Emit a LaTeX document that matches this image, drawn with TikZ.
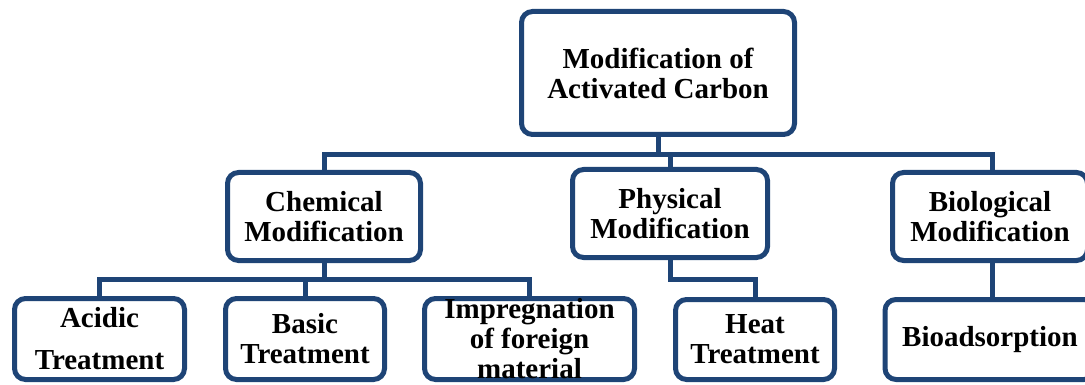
\documentclass[tikz,border=0pt]{standalone}
\usepackage{fontspec}
\setmainfont{Liberation Serif}
\definecolor{boxblue}{RGB}{30,68,118}
\begin{document}
\begin{tikzpicture}[x=1pt,y=-1pt,
  box/.style={draw=boxblue, line width=5pt, rounded corners=11pt, fill=white,
    inner sep=0pt, align=center, font=\fontsize{29}{30}\selectfont\bfseries},
  conn/.style={draw=boxblue, line width=5pt}]
\useasboundingbox (0,0) rectangle (1085,385);
\coordinate (bar) at (0,155);
\coordinate (bar2) at (0,279);
\node[box, minimum width=273, minimum height=123] (top) at (658,73) {Modification of\\Activated Carbon};
\node[box, minimum width=193, minimum height=88] (chem) at (324,216.5) {Chemical\\Modification};
\node[box, minimum width=195, minimum height=88] (phys) at (670,213.5) {Physical\\Modification};
\node[box, minimum width=195, minimum height=88] (bio) at (990,216.5) {Biological\\Modification};
\node[box, minimum width=170, minimum height=81] (acid) at (99.5,339) {Acidic\\[12pt]Treatment};
\node[box, minimum width=159, minimum height=81] (basic) at (305,339) {Basic\\Treatment};
\node[box, minimum width=210, minimum height=81] (imp) at (529.5,339) {Impregnation\\of foreign\\material};
\node[box, minimum width=159, minimum height=80] (heat) at (755,339.5) {Heat\\Treatment};
\node[box, minimum width=210, minimum height=80] (bioads) at (990,339.5) {Bioadsorption};
\draw[conn] (top.south) -- (top.south |- bar);
\draw[conn] (chem.north) |- ([xshift=2pt]bio.north |- bar) -- ([xshift=2pt]bio.north);
\draw[conn] (phys.north) -- (phys.north |- bar);
\draw[conn] (acid.north) |- (imp.north |- bar2) -- (imp.north);
\draw[conn] (chem.south) -- (chem.south |- bar2);
\draw[conn] (basic.north) -- (basic.north |- bar2);
\draw[conn] (phys.south) |- (heat.north |- bar2) -- (heat.north);
\draw[conn] ([xshift=2pt]bio.south) -- ([xshift=2pt]bioads.north);
\end{tikzpicture}
\end{document}
